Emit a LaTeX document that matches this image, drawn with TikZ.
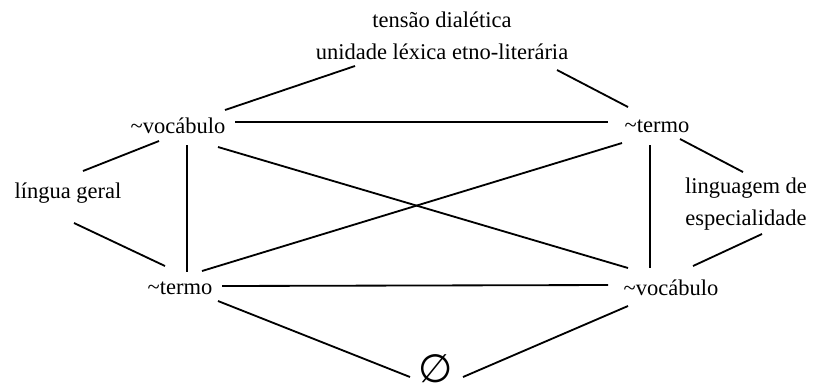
\documentclass[tikz,border=0pt]{standalone}
\usepackage{fontspec}
\setmainfont{Liberation Serif}
\newfontfamily\symfont{DejaVu Sans}
\usepackage{tikz}
\usetikzlibrary{calc}
\tikzset{
  link/.style={line width=1.3pt,black,line cap=butt},
  word/.style={font=\fontsize{16}{22.7}\selectfont,inner sep=0pt,align=center}
}

\begin{document}
\begin{tikzpicture}[x=0.025cm,y=-0.025cm]
\useasboundingbox (0,0) rectangle (815,391);
\node[word] (tensao) at (442,36) {tensão dialética\\unidade léxica etno-literária};
\node[word] (vocA) at (178,126) {\textasciitilde vocábulo};
\node[word] (termoA) at (657,126) {\textasciitilde termo};
\node[word] (lingua) at (68,193) {língua geral};
\node[word] (especial) at (746,204) {linguagem de\\especialidade};
\node[word] (termoB) at (180,288) {\textasciitilde termo};
\node[word] (vocB) at (671,288) {\textasciitilde vocábulo};
\node[inner sep=0pt,font=\symfont\fontsize{28}{30}\selectfont] (vazio) at (436,369) {∅};
% top level
\draw[link] ($(vocA)+(47,-16)$)--($(tensao)+(-87,30)$);
\draw[link] ($(tensao)+(115,34)$)--($(termoA)+(-29,-19)$);
\draw[link] ($(vocA)+(57,-4)$)--($(termoA)+(-49,-4)$);
% sides
\draw[link] ($(vocA)+(-19,15)$)--($(lingua)+(15,-22)$);
\draw[link] ($(lingua)+(6,30)$)--($(termoB)+(-15,-22)$);
\draw[link] ($(termoA)+(23,13)$)--($(especial)+(-3,-32)$);
\draw[link] ($(especial)+(16,30)$)--($(vocB)+(22,-22)$);
% square and cross
\draw[link] ($(vocA)+(9,19)$)--($(termoB)+(7,-16)$);
\draw[link] ($(termoA)+(-7,19)$)--($(vocB)+(-21,-20)$);
\draw[link] ($(vocA)+(40,21)$)--($(vocB)+(-43,-20)$);
\draw[link] ($(termoB)+(22,-17)$)--($(termoA)+(-35,17)$);
\draw[link] ($(termoB)+(42,-2)$)--($(vocB)+(-63,-3)$);
% bottom
\draw[link] ($(termoB)+(38,13)$)--($(vazio)+(-26,8)$);
\draw[link] ($(vocB)+(-43,18)$)--($(vazio)+(27,8)$);
\end{tikzpicture}
\end{document}
